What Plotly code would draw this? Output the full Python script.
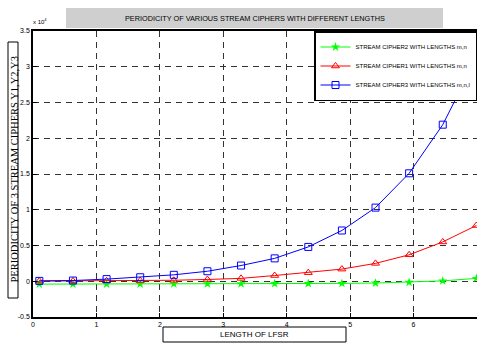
import plotly.graph_objects as go

lfsr_length = [0.1, 0.63, 1.16, 1.69, 2.22, 2.75, 3.28, 3.81, 4.34, 4.87, 5.4, 5.93, 6.46, 6.99]
cipher2 = [-400, -400, -400, -380, -370, -360, -350, -330, -320, -300, -250, -150, 50, 400]
cipher1 = [30, 40, 60, 90, 140, 250, 400, 800, 1200, 1700, 2500, 3700, 5500, 7800]
cipher3 = [50, 100, 300, 560, 900, 1400, 2200, 3200, 4800, 7100, 10300, 15100, 21900, 31200]

y_ticks = [-5000, 0, 5000, 10000, 15000, 20000, 25000, 30000, 35000]
y_tick_labels = ["-0.5", "0", "0.5", "1", "1.5", "2", "2.5", "3", "3.5"]
x_ticks = [0, 1, 2, 3, 4, 5, 6, 7]

title_text = "PERIODICITY OF VARIOUS STREAM CIPHERS WITH DIFFERENT LENGTHS"
ylabel_text = "PERIODICITY OF 3 STREAM CIPHERS Y1,Y2,Y3"
xlabel_text = "LENGTH OF LFSR"
legend_names = ["STREAM CIPHER2 WITH LENGTHS m,n",
                "STREAM CIPHER1 WITH LENGTHS m,n",
                "STREAM CIPHER3 WITH LENGTHS m,n,l"]

SANS = "Liberation Sans Narrow, Arial Narrow, Liberation Sans, Arial, sans-serif"

fig = go.Figure()
fig.add_trace(go.Scatter(x=lfsr_length, y=cipher2, mode="lines+markers", name=legend_names[0],
                         line=dict(color="#00ff00", width=1),
                         marker=dict(symbol="star", size=7, color="#00ff00")))
fig.add_trace(go.Scatter(x=lfsr_length, y=cipher1, mode="lines+markers", name=legend_names[1],
                         line=dict(color="#ff0000", width=1),
                         marker=dict(symbol="triangle-up-open", size=7, color="#ff0000")))
fig.add_trace(go.Scatter(x=lfsr_length, y=cipher3, mode="lines+markers", name=legend_names[2],
                         line=dict(color="#0000ff", width=1),
                         marker=dict(symbol="square-open", size=7, color="#0000ff")))

axis_common = dict(showline=True, linecolor="black", linewidth=1.5, mirror=True,
                   showgrid=True, gridcolor="#333333", griddash="6px,5px", gridwidth=1,
                   ticks="inside", ticklen=4, tickcolor="black", zeroline=False,
                   automargin=False,
                   tickfont=dict(size=7, color="black", family=SANS))

fig.update_xaxes(range=[0, 7], tickvals=x_ticks, **axis_common)
fig.update_yaxes(range=[-5000, 35000], tickvals=y_ticks, ticktext=y_tick_labels, **axis_common)

W, H = 477, 345
L, R, T, B = 33, 0, 31, 28
pw, ph = W - L - R, H - T - B

def px(x):
    return (x - L) / pw

def py(y):
    return (H - B - y) / ph

shapes = [
    dict(type="rect", xref="paper", yref="paper", x0=px(66), x1=px(443), y0=py(28), y1=py(8),
         fillcolor="#cfcfcf", line=dict(width=0), layer="below"),
    dict(type="rect", xref="paper", yref="paper", x0=px(8), x1=px(18), y0=py(298), y1=py(42),
         fillcolor="white", line=dict(color="black", width=1)),
    dict(type="rect", xref="paper", yref="paper", x0=px(163), x1=px(346), y0=py(342), y1=py(327),
         fillcolor="white", line=dict(color="black", width=1)),
]

annotations = [
    dict(text=title_text, xref="paper", yref="paper", x=px(255), y=py(18), showarrow=False,
         font=dict(size=7.3, color="black", family=SANS), xanchor="center", yanchor="middle"),
    dict(text=ylabel_text, xref="paper", yref="paper", x=px(13.5), y=py(170), showarrow=False,
         textangle=-90, font=dict(size=10.5, color="black", family="Liberation Serif, Times New Roman, serif"),
         xanchor="center", yanchor="middle"),
    dict(text=xlabel_text, xref="paper", yref="paper", x=px(254.5), y=py(334.5), showarrow=False,
         font=dict(size=8, color="black", family=SANS), xanchor="center", yanchor="middle"),
    dict(text="x 10<sup>4</sup>", xref="paper", yref="paper", x=px(31), y=py(27), showarrow=False,
         font=dict(size=6, color="black", family=SANS), xanchor="left", yanchor="bottom"),
]

fig.update_layout(
    width=W, height=H,
    margin=dict(l=L, r=R, t=T, b=B, pad=0, autoexpand=False),
    paper_bgcolor="white", plot_bgcolor="white",
    showlegend=True,
    legend=dict(x=1, y=1, xanchor="right", yanchor="top", bgcolor="white",
                bordercolor="black", borderwidth=1.5,
                font=dict(size=6, color="black", family=SANS),
                tracegroupgap=0, itemwidth=30),
    shapes=shapes, annotations=annotations,
)

fig.write_html("out.html", config={"displayModeBar": False},
               post_script="document.body.style.margin='0';document.body.style.overflow='hidden';")
